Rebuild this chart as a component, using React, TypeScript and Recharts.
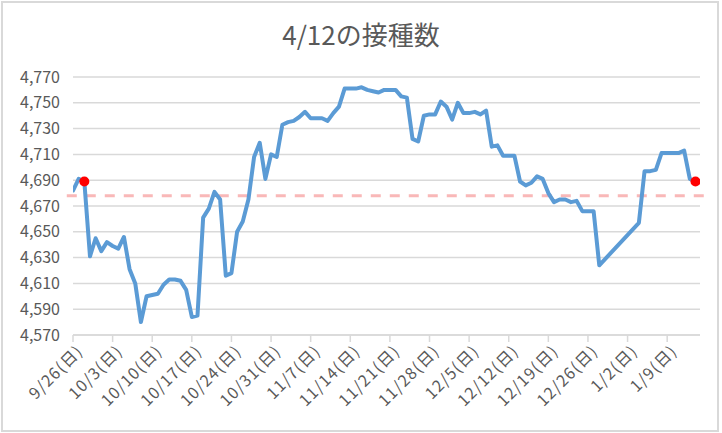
import React from "react";
import {
  ComposedChart,
  Line,
  Scatter,
  XAxis,
  YAxis,
  CartesianGrid,
  ReferenceLine,
} from "recharts";

// day offsets from 9/26 (day 0)
const days: number[] = [
  0, 1, 2, 3, 4, 5, 6, 7, 8, 9, 10, 11, 12, 13, 14, 15, 16, 17, 18, 19, 20,
  21, 22, 23, 24, 25, 26, 27, 28, 29, 30, 31, 32, 33, 34, 35, 36, 37, 38, 39,
  40, 41, 42, 43, 44, 45, 46, 47, 48, 49, 50, 51, 52, 53, 54, 55, 56, 57, 58,
  59, 60, 61, 62, 63, 64, 65, 66, 67, 68, 69, 70, 71, 72, 73, 74, 75, 76, 77,
  78, 79, 80, 81, 82, 83, 84, 85, 86, 87, 88, 89, 90, 91, 92, 93, 100, 101,
  102, 103, 104, 105, 106, 107, 108, 109, 110,
];

const counts: number[] = [
  4682, 4691, 4689, 4631, 4645, 4635, 4642, 4639, 4637, 4646, 4621, 4610,
  4580, 4600, 4601, 4602, 4609, 4613, 4613, 4612, 4605, 4584, 4585, 4661,
  4668, 4681, 4675, 4616, 4618, 4650, 4658, 4675, 4708, 4719, 4691, 4710,
  4708, 4733, 4735, 4736, 4739, 4743, 4738, 4738, 4738, 4736, 4742, 4747,
  4761, 4761, 4761, 4762, 4760, 4759, 4758, 4760, 4760, 4760, 4755, 4754,
  4722, 4720, 4740, 4741, 4741, 4751, 4747, 4737, 4750, 4742, 4742, 4743,
  4741, 4744, 4716, 4717, 4709, 4709, 4709, 4689, 4686, 4688, 4693, 4691,
  4680, 4673, 4675, 4675, 4673, 4674, 4666, 4666, 4666, 4624, 4657, 4697,
  4697, 4698, 4711, 4711, 4711, 4711, 4713, 4691, 4689,
];

const markDays: number[] = [2, 110];
const markValues: number[] = [4689, 4689];

const referenceValue = 4678;

const xTicks: number[] = [0, 7, 14, 21, 28, 35, 42, 49, 56, 63, 70, 77, 84, 91, 98, 105];
const xTickLabels: string[] = [
  "9/26(日)", "10/3(日)", "10/10(日)", "10/17(日)", "10/24(日)", "10/31(日)",
  "11/7(日)", "11/14(日)", "11/21(日)", "11/28(日)", "12/5(日)", "12/12(日)",
  "12/19(日)", "12/26(日)", "1/2(日)", "1/9(日)",
];
const yTicks: number[] = [4570, 4590, 4610, 4630, 4650, 4670, 4690, 4710, 4730, 4750, 4770];

const title = "4/12の接種数";

const data = days.map((d, i) => ({ d, v: counts[i] }));
const markData = markDays.map((d, i) => ({ d, v: markValues[i] }));

const FONT = "'Noto Sans CJK JP', 'Noto Sans', sans-serif";
const TEXT = "#595959";
const GRID = "#d9d9d9";

const XTick = (props: any) => {
  const { x, y, payload } = props;
  const idx = xTicks.indexOf(payload.value);
  const label = idx >= 0 ? xTickLabels[idx] : "";
  const ax = x + 11;
  const ay = y + 8;
  return (
    <text
      x={ax}
      y={ay}
      transform={`rotate(-45, ${ax}, ${ay})`}
      textAnchor="end"
      fill={TEXT}
      fontSize={16}
      letterSpacing={1.2}
      fontFamily={FONT}
    >
      {label}
    </text>
  );
};

const fmt = (v: number) => v.toLocaleString("en-US");

export default function App() {
  return (
    <div
      style={{
        position: "absolute",
        left: 0,
        top: 0,
        width: 722,
        height: 433,
        background: "#fff",
        fontFamily: FONT,
      }}
    >
      <div
        style={{
          position: "absolute",
          left: 1,
          top: 1,
          width: 714,
          height: 427,
          border: `2px solid ${GRID}`,
        }}
      />
      <div
        style={{
          position: "absolute",
          left: 0,
          width: 722,
          top: 20,
          textAlign: "center",
          fontSize: 26,
          lineHeight: "28px",
          color: TEXT,
          fontFamily: FONT,
        }}
      >
        {title}
      </div>
      <div style={{ position: "absolute", left: 0, top: 0 }}>
        <ComposedChart
          width={722}
          height={433}
          data={data}
          margin={{ top: 77, right: 22, left: 0, bottom: 0 }}
        >
          <CartesianGrid vertical={false} stroke={GRID} strokeWidth={1.5} />
          <XAxis
            dataKey="d"
            type="number"
            domain={[0, 110.8]}
            ticks={xTicks}
            interval={0}
            height={98}
            axisLine={{ stroke: GRID, strokeWidth: 1.5 }}
            tickLine={{ stroke: GRID, strokeWidth: 1.5 }}
            tickSize={7}
            tick={<XTick />}
            allowDataOverflow
          />
          <YAxis
            type="number"
            domain={[4570, 4770]}
            ticks={yTicks}
            interval={0}
            width={73}
            axisLine={false}
            tickLine={false}
            tickSize={0}
            tickMargin={13}
            tickFormatter={fmt}
            tick={{ fill: TEXT, fontSize: 16, fontFamily: FONT }}
          />
          <ReferenceLine
            segment={[
              { x: -1.1, y: referenceValue },
              { x: 111.6, y: referenceValue },
            ]}
            ifOverflow="visible"
            stroke="#f9b8b8"
            strokeWidth={3}
            strokeDasharray="10 9"
          />
          <Line
            dataKey="v"
            stroke="#5b9bd5"
            strokeWidth={4}
            dot={false}
            activeDot={false}
            strokeLinejoin="round"
            strokeLinecap="round"
            isAnimationActive={false}
          />
          <Scatter
            data={markData}
            dataKey="v"
            fill="#ff0000"
            isAnimationActive={false}
            shape={(p: any) => <circle cx={p.cx} cy={p.cy} r={5} fill="#ff0000" />}
          />
        </ComposedChart>
      </div>
    </div>
  );
}
